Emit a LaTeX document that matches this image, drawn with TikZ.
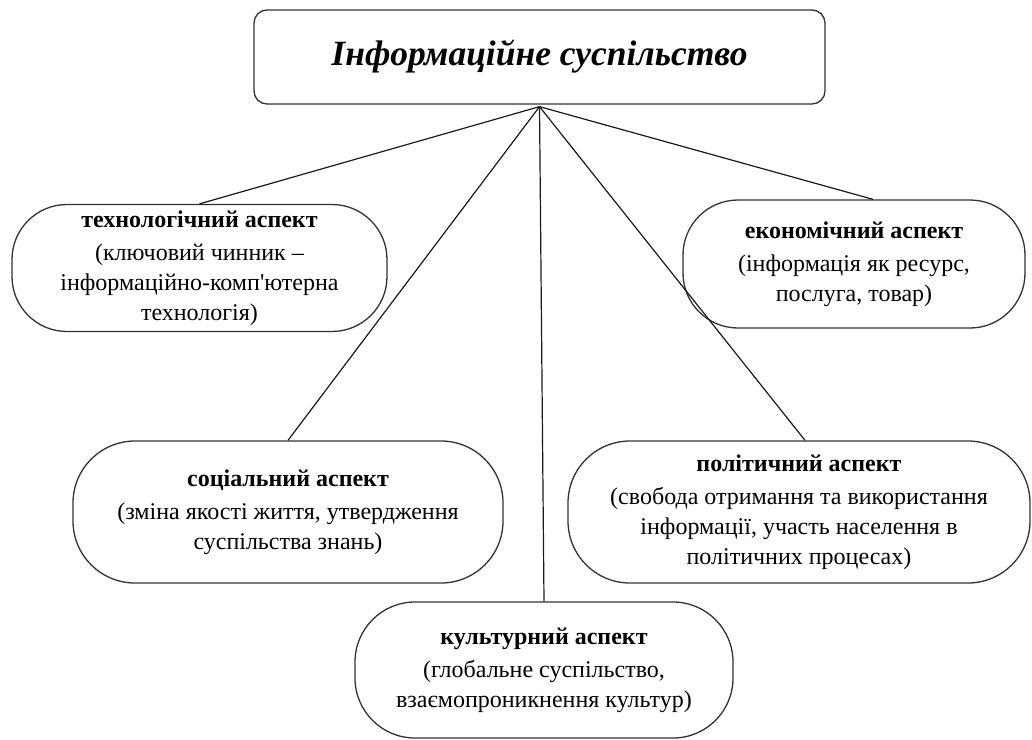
\documentclass[tikz,border=0pt]{standalone}
\usepackage{fontspec}
\setmainfont{Liberation Serif}
\newfontfamily\plainserif{Liberation Serif}
\usetikzlibrary{calc}
\tikzset{
  box/.style={draw=black!80, line width=1.3pt, fill=white, align=center, inner sep=0pt,
    font=\fontsize{24}{30}\selectfont},
  conn/.style={draw=black!90, line width=1.2pt},
}
\newcommand{\hd}[1]{\textbf{#1}\\[3pt]}
\begin{document}
\begin{tikzpicture}[x=1pt,y=-1pt]
\useasboundingbox (0,0) rectangle (1032,739);
\node[box, rounded corners=13pt, minimum width=571pt, minimum height=94pt,
  font=\fontsize{35.5}{40}\selectfont\bfseries\itshape] (top) at (539.5,57) {Інформаційне суспільство};
\node[box, rounded corners=55pt, minimum width=375pt, minimum height=127pt] (tech) at (199.5,268)
  {\hd{технологічний аспект}(ключовий чинник –\\інформаційно-комп{\plainserif'}ютерна\\технологія)};
\node[box, rounded corners=55pt, minimum width=342pt, minimum height=128pt] (econ) at (854,264)
  {\hd{економічний аспект}(інформація як ресурс,\\послуга, товар)};
\node[box, rounded corners=62pt, minimum width=430pt, minimum height=142pt] (soc) at (288,512)
  {\hd{соціальний аспект}(зміна якості життя, утвердження\\суспільства знань)};
\node[box, rounded corners=62pt, minimum width=462pt, minimum height=142pt] (pol) at (799,512)
  {\hd{політичний аспект}(свобода отримання та використання\\інформації, участь населення в\\політичних процесах)};
\node[box, rounded corners=60pt, minimum width=378pt, minimum height=136pt] (cul) at (544,670)
  {\hd{культурний аспект}(глобальне суспільство,\\взаємопроникнення культур)};
\draw[conn] ([yshift=-2pt]top.south) -- (tech.north);
\draw[conn] ([yshift=-2pt]top.south) -- ([xshift=19pt]econ.north);
\draw[conn] ([yshift=-2pt]top.south) -- (soc.north);
\draw[conn] ([yshift=-2pt]top.south) -- ([xshift=6pt]pol.north);
\draw[conn] ([yshift=-2pt]top.south) -- (cul.north);
\end{tikzpicture}
\end{document}
